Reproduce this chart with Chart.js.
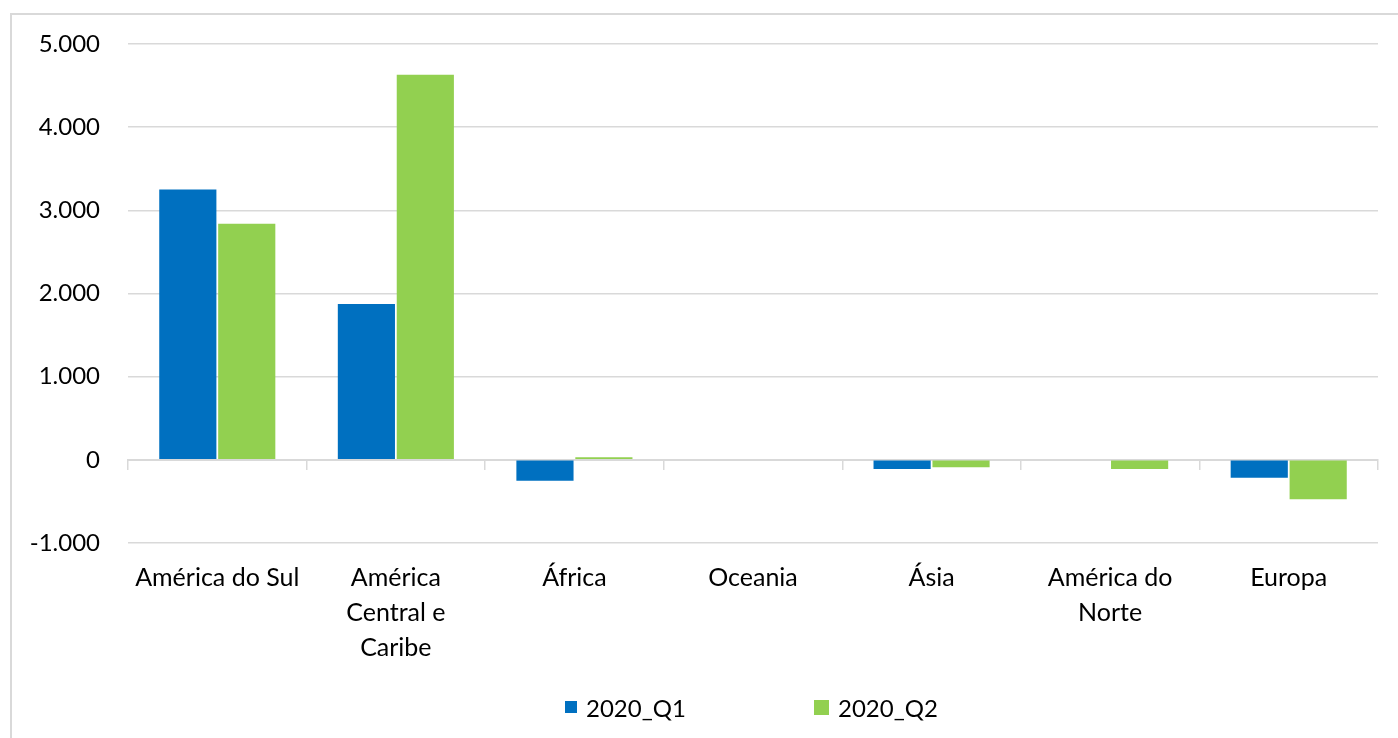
<!DOCTYPE html>
<html lang="pt">
<head>
<meta charset="utf-8">
<title>2020_Q1 / 2020_Q2 por região</title>
<script src="https://cdn.jsdelivr.net/npm/chart.js@4.4.1/dist/chart.umd.min.js"></script>
<style>
  html, body { margin: 0; padding: 0; background: #fff; }
  .wrap { position: relative; width: 1398px; height: 738px; overflow: hidden; }
  .frame {
    position: absolute; left: 10px; top: 13px; right: -4px; bottom: -4px;
    border-left: 2px solid #d9d9d9; border-top: 2px solid #d9d9d9;
    pointer-events: none;
  }
  #chart { position: absolute; left: 0; top: 0; }
  .legend {
    position: absolute; left: 0; top: 694px; width: 1398px; height: 26px;
    font-family: Lato, "Noto Sans", sans-serif; font-size: 24px; color: #000;
  }
  .legend-item { position: absolute; top: 0; display: flex; align-items: center; height: 26px; }
  .legend-box { display: inline-block; margin-right: 9px; }
</style>
</head>
<body>
<div class="wrap">
  <canvas id="chart" width="1398" height="738"></canvas>
  <div class="frame"></div>
  <div class="legend" id="legend"></div>
</div>
<script>
// regiões (eixo X) e séries trimestrais
const categories = [
  'América do Sul',
  ['América', 'Central e', 'Caribe'],
  'África',
  'Oceania',
  'Ásia',
  ['América do', 'Norte'],
  'Europa'
];
const seriesNames = ['2020_Q1', '2020_Q2'];
const seriesColors = ['#0070C0', '#92D050'];
const q1Values = [3250, 1875, -250, 0, -110, 0, -215];
const q2Values = [2840, 4630, 30, 0, -90, -110, -475];
const yMin = -1000, yMax = 5000, yStep = 1000;

const FONT = 'Lato, "Noto Sans", sans-serif';
const GRID = '#d9d9d9';

function fmt(v) {
  const s = Math.abs(v).toString().replace(/\B(?=(\d{3})+(?!\d))/g, '.');
  return (v < 0 ? '-' : '') + s;
}

const chart = new Chart(document.getElementById('chart'), {
  type: 'bar',
  data: {
    labels: categories,
    datasets: [
      { label: seriesNames[0], data: q1Values, backgroundColor: seriesColors[0] },
      { label: seriesNames[1], data: q2Values, backgroundColor: seriesColors[1] }
    ]
  },
  options: {
    responsive: false,
    animation: false,
    layout: { padding: { left: 10, top: 44, right: 20, bottom: 195 } },
    datasets: { bar: { categoryPercentage: 0.66, barPercentage: 0.97 } },
    plugins: { legend: { display: false }, tooltip: { enabled: false } },
    scales: {
      x: {
        position: { y: 0 },
        grid: { drawOnChartArea: false, offset: true, color: GRID, lineWidth: 1.5, tickLength: 9 },
        border: { color: GRID, width: 2 },
        ticks: {
          color: '#000', padding: 92, maxRotation: 0, autoSkip: false,
          font: { family: FONT, size: 25, lineHeight: 1.4 }
        },
        afterFit: s => { s.paddingLeft = 0; s.paddingRight = 0; }
      },
      y: {
        min: yMin, max: yMax,
        grid: { color: GRID, lineWidth: 1.5, drawTicks: false },
        border: { display: false },
        ticks: {
          stepSize: yStep, padding: 28, color: '#000',
          font: { family: FONT, size: 24 },
          callback: v => fmt(v)
        },
        afterFit: s => { s.width = 118; }
      }
    }
  }
});

// legenda abaixo do gráfico
const legend = document.getElementById('legend');
const legendX = [565, 814];
const boxSizes = [12, 15];
seriesNames.forEach((name, i) => {
  const item = document.createElement('div');
  item.className = 'legend-item';
  item.style.left = legendX[i] + 'px';
  const box = document.createElement('span');
  box.className = 'legend-box';
  box.style.width = boxSizes[i] + 'px';
  box.style.height = boxSizes[i] + 'px';
  box.style.background = seriesColors[i];
  item.appendChild(box);
  item.appendChild(document.createTextNode(name));
  legend.appendChild(item);
});
</script>
</body>
</html>
